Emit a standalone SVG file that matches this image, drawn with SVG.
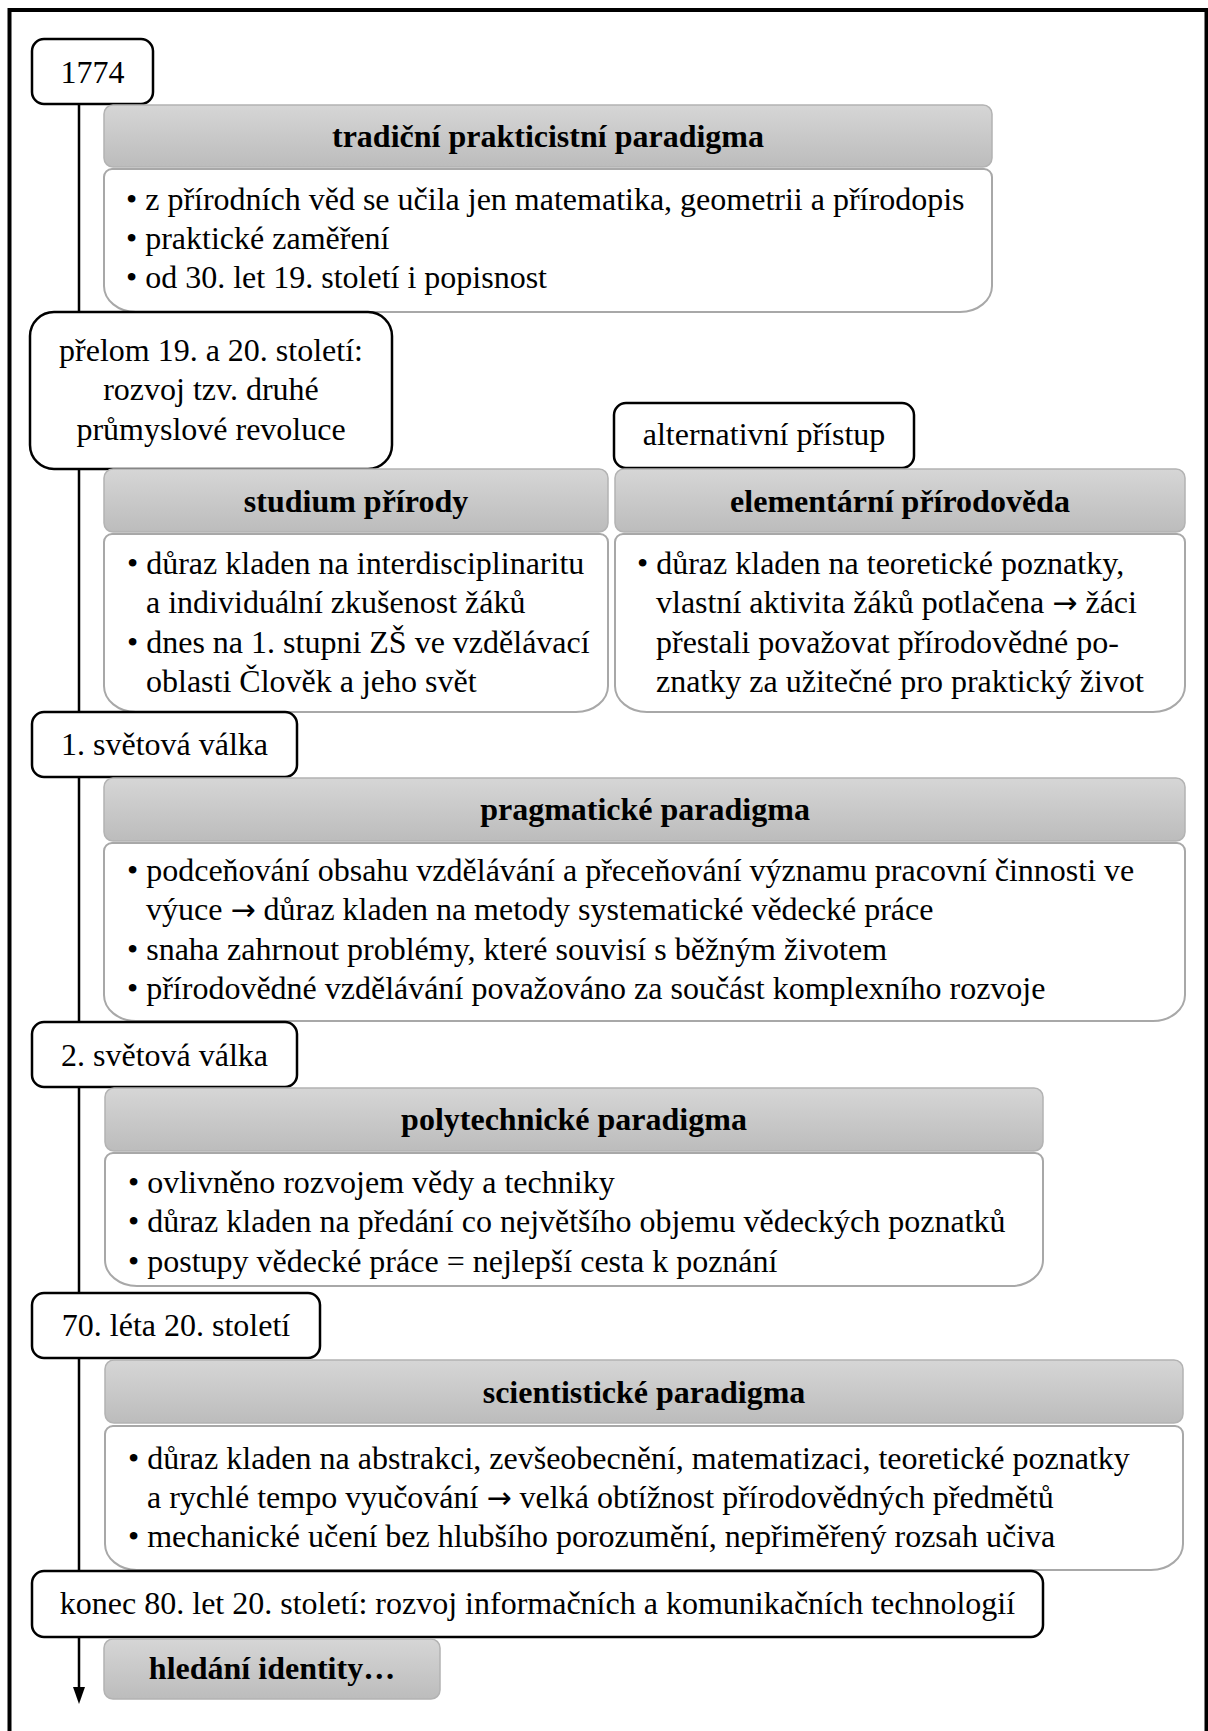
<svg xmlns="http://www.w3.org/2000/svg" width="1208" height="1731" viewBox="0 0 1208 1731">
<defs>
<linearGradient id="hdr" x1="0" y1="0" x2="0" y2="1">
<stop offset="0" stop-color="#d6d6d6"/>
<stop offset="1" stop-color="#bcbcbc"/>
</linearGradient>
</defs>
<style>
text{font-family:"Liberation Serif","Times New Roman",serif;font-size:32px;fill:#000}
.c{text-anchor:middle}
.b{font-weight:bold}
.ar{font-family:"DejaVu Sans",sans-serif;font-size:30px}
.tl{fill:#fff;stroke:#000;stroke-width:2.5}
.hd{fill:url(#hdr);stroke:#b3b3b3;stroke-width:1.5}
.bd{fill:#fff;stroke:#a8a8a8;stroke-width:2}
</style>
<rect width="1208" height="1731" fill="#fff"/>
<path d="M9.5,1731 V10 H1206.5 V1731" fill="none" stroke="#000" stroke-width="4"/>

<g id="connectors">
<line x1="79" y1="104" x2="79" y2="1688" stroke="#000" stroke-width="2.5"/>
<path d="M73,1687 L85,1687 L79,1704 Z" fill="#000"/>
</g>

<g id="n1774">
<rect class="tl" x="32" y="39" width="121" height="65" rx="12"/>
<text class="c" x="92.5" y="83">1774</text>
</g>
<g id="h-tradicni">
<rect class="hd" x="104" y="105" width="888" height="62" rx="9"/>
<text class="c b" x="548" y="147">tradiční prakticistní paradigma</text>
</g>
<g id="b-tradicni">
<path class="bd" d="M112,169 H984 A8,8 0 0 1 992,177 V286 A32,26 0 0 1 960,312 H136 A32,26 0 0 1 104,286 V177 A8,8 0 0 1 112,169 Z"/>
<text x="126" y="210">• z přírodních věd se učila jen matematika, geometrii a přírodopis</text>
<text x="126" y="249">• praktické zaměření</text>
<text x="126" y="288">• od 30. let 19. století i popisnost</text>
</g>

<g id="n-prelom">
<rect class="tl" x="30" y="312" width="362" height="157" rx="24"/>
<text class="c" x="211" y="361">přelom 19. a 20. století:</text>
<text class="c" x="211" y="400">rozvoj tzv. druhé</text>
<text class="c" x="211" y="440">průmyslové revoluce</text>
</g>
<g id="n-alternativni">
<rect class="tl" x="614" y="403" width="300" height="65" rx="12"/>
<text class="c" x="764" y="445">alternativní přístup</text>
</g>
<g id="h-studium">
<rect class="hd" x="104" y="469" width="504" height="63" rx="9"/>
<text class="c b" x="356" y="512">studium přírody</text>
</g>
<g id="b-studium">
<path class="bd" d="M112,534 H600 A8,8 0 0 1 608,542 V686 A32,26 0 0 1 576,712 H136 A32,26 0 0 1 104,686 V542 A8,8 0 0 1 112,534 Z"/>
<text x="127" y="574">• důraz kladen na interdisciplinaritu</text>
<text x="146" y="613">a individuální zkušenost žáků</text>
<text x="127" y="653">• dnes na 1. stupni ZŠ ve vzdělávací</text>
<text x="146" y="692">oblasti Člověk a jeho svět</text>
</g>
<g id="h-elementarni">
<rect class="hd" x="615" y="469" width="570" height="63" rx="9"/>
<text class="c b" x="900" y="512">elementární přírodověda</text>
</g>
<g id="b-elementarni">
<path class="bd" d="M623,534 H1177 A8,8 0 0 1 1185,542 V686 A32,26 0 0 1 1153,712 H647 A32,26 0 0 1 615,686 V542 A8,8 0 0 1 623,534 Z"/>
<text x="637" y="574">• důraz kladen na teoretické poznatky,</text>
<text x="656" y="613">vlastní aktivita žáků potlačena <tspan class="ar">→</tspan> žáci</text>
<text x="656" y="653">přestali považovat přírodovědné po-</text>
<text x="656" y="692">znatky za užitečné pro praktický život</text>
</g>

<g id="n-ww1">
<rect class="tl" x="32" y="712" width="265" height="65" rx="12"/>
<text class="c" x="164.5" y="755">1. světová válka</text>
</g>
<g id="h-pragmaticke">
<rect class="hd" x="104" y="778" width="1081" height="63" rx="9"/>
<text class="c b" x="645" y="820">pragmatické paradigma</text>
</g>
<g id="b-pragmaticke">
<path class="bd" d="M112,843 H1177 A8,8 0 0 1 1185,851 V995 A32,26 0 0 1 1153,1021 H136 A32,26 0 0 1 104,995 V851 A8,8 0 0 1 112,843 Z"/>
<text x="127" y="881">• podceňování obsahu vzdělávání a přeceňování významu pracovní činnosti ve</text>
<text x="146" y="920">výuce <tspan class="ar">→</tspan> důraz kladen na metody systematické vědecké práce</text>
<text x="127" y="960">• snaha zahrnout problémy, které souvisí s běžným životem</text>
<text x="127" y="999">• přírodovědné vzdělávání považováno za součást komplexního rozvoje</text>
</g>

<g id="n-ww2">
<rect class="tl" x="32" y="1022" width="265" height="65" rx="12"/>
<text class="c" x="164.5" y="1066">2. světová válka</text>
</g>
<g id="h-polytechnicke">
<rect class="hd" x="105" y="1088" width="938" height="63" rx="9"/>
<text class="c b" x="574" y="1130">polytechnické paradigma</text>
</g>
<g id="b-polytechnicke">
<path class="bd" d="M113,1153 H1035 A8,8 0 0 1 1043,1161 V1260 A32,26 0 0 1 1011,1286 H137 A32,26 0 0 1 105,1260 V1161 A8,8 0 0 1 113,1153 Z"/>
<text x="128" y="1193">• ovlivněno rozvojem vědy a techniky</text>
<text x="128" y="1232">• důraz kladen na předání co největšího objemu vědeckých poznatků</text>
<text x="128" y="1272">• postupy vědecké práce = nejlepší cesta k poznání</text>
</g>

<g id="n-70">
<rect class="tl" x="32" y="1293" width="288" height="65" rx="12"/>
<text class="c" x="176" y="1336">70. léta 20. století</text>
</g>
<g id="h-scientisticke">
<rect class="hd" x="105" y="1360" width="1078" height="63" rx="9"/>
<text class="c b" x="644" y="1403">scientistické paradigma</text>
</g>
<g id="b-scientisticke">
<path class="bd" d="M113,1426 H1175 A8,8 0 0 1 1183,1434 V1544 A32,26 0 0 1 1151,1570 H137 A32,26 0 0 1 105,1544 V1434 A8,8 0 0 1 113,1426 Z"/>
<text x="128" y="1469">• důraz kladen na abstrakci, zevšeobecnění, matematizaci, teoretické poznatky</text>
<text x="147" y="1508">a rychlé tempo vyučování <tspan class="ar">→</tspan> velká obtížnost přírodovědných předmětů</text>
<text x="128" y="1547">• mechanické učení bez hlubšího porozumění, nepřiměřený rozsah učiva</text>
</g>

<g id="n-80">
<rect class="tl" x="32" y="1571" width="1011" height="66" rx="12"/>
<text class="c" x="537.5" y="1614">konec 80. let 20. století: rozvoj informačních a komunikačních technologií</text>
</g>
<g id="h-hledani">
<rect class="hd" x="104" y="1639" width="336" height="60" rx="9"/>
<text class="c b" x="272" y="1679">hledání identity…</text>
</g>
</svg>
